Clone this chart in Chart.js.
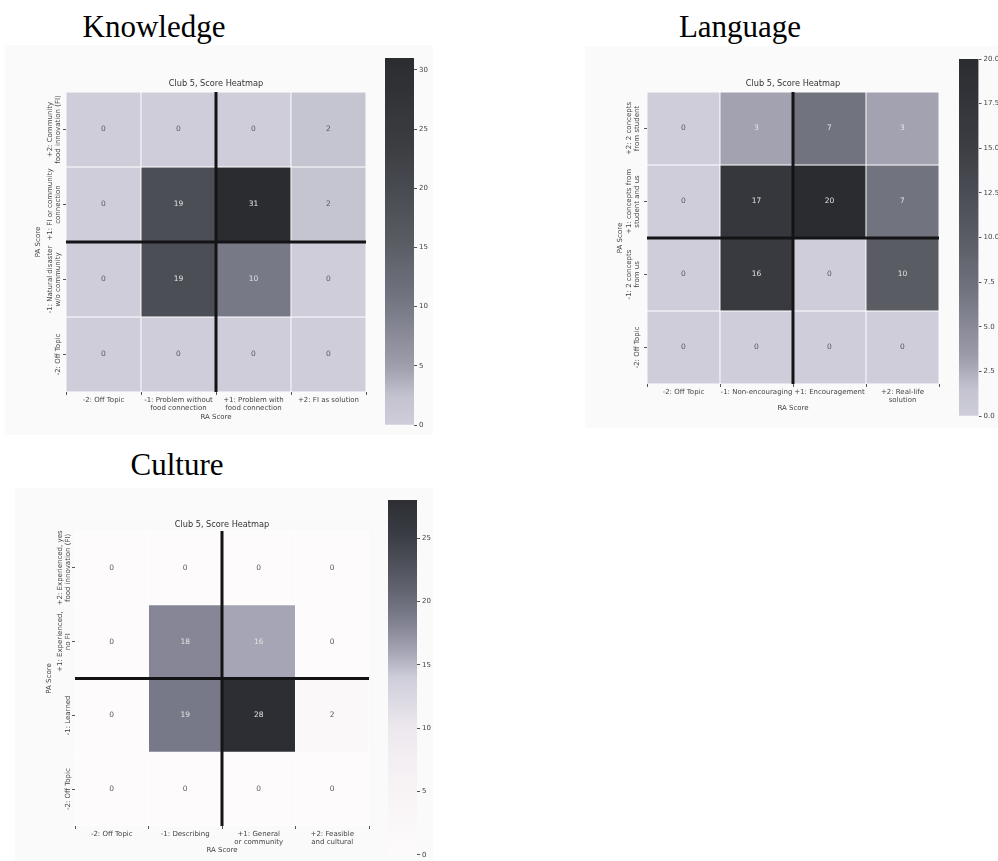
<!DOCTYPE html>
<html>
<head>
<meta charset="utf-8">
<script src="https://cdn.jsdelivr.net/npm/chart.js@4.4.1/dist/chart.umd.min.js"></script>
<style>
  body { margin: 0; background: #fff; width: 998px; height: 861px; position: relative; overflow: hidden; }
  .panel { position: absolute; background: #fafafa; }
  .heading { position: absolute; font-family: 'Liberation Serif', 'Times New Roman', serif; font-size: 31px; line-height: 31px; color: #000; white-space: nowrap; transform: translateX(-50%); }
  canvas { position: absolute; }
</style>
</head>
<body>
<div class="panel" style="left:5px; top:45px; width:428px; height:390px;"></div>
<div class="panel" style="left:585px; top:46px; width:413px; height:382px;"></div>
<div class="panel" style="left:15px; top:488px; width:418px; height:373px;"></div>

<div class="heading" style="left:154px; top:11px;">Knowledge</div>
<div class="heading" style="left:740px; top:11px;">Language</div>
<div class="heading" style="left:177px; top:449px;">Culture</div>

<canvas id="knowledge" style="left:20px; top:70px;" width="352" height="362"></canvas>
<canvas id="knowledgeBar" style="left:385px; top:50px;" width="45" height="385"></canvas>
<canvas id="language" style="left:600px; top:70px;" width="345" height="355"></canvas>
<canvas id="languageBar" style="left:959px; top:50px;" width="39" height="376"></canvas>
<canvas id="culture" style="left:25px; top:505px;" width="350" height="356"></canvas>
<canvas id="cultureBar" style="left:388px; top:492px;" width="45" height="369"></canvas>

<script>
// ---- data ----
const knowledgeCols = ['-2: Off Topic', ['-1: Problem without', 'food connection'], ['+1: Problem with', 'food connection'], '+2: FI as solution'];
const knowledgeRows = [['+2: Community', 'food innovation (FI)'], ['+1: FI or community', 'connection'], ['-1: Natural disaster', 'w/o community'], ['-2: Off Topic']];
const knowledgeValues = [
    [0, 0, 0, 2],
    [0, 19, 31, 2],
    [0, 19, 10, 0],
    [0, 0, 0, 0]
];

const languageCols = ['-2: Off Topic', '-1: Non-encouraging', '+1: Encouragement', ['+2: Real-life', 'solution']];
const languageRows = [['+2: 2 concepts', 'from student'], ['+1: concepts from', 'student and us'], ['-1: 2 concepts', 'from us'], ['-2: Off Topic']];
const languageValues = [
    [0, 3, 7, 3],
    [0, 17, 20, 7],
    [0, 16, 0, 10],
    [0, 0, 0, 0]
];

const cultureCols = ['-2: Off Topic', '-1: Describing', ['+1: General', 'or community'], ['+2: Feasible', 'and cultural']];
const cultureRows = [['+2: Experienced, yes', 'food innovation (FI)'], ['+1: Experienced,', 'no FI'], ['-1: Learned'], ['-2: Off Topic']];
const cultureValues = [
    [0, 0, 0, 0],
    [0, 18, 16, 0],
    [0, 19, 28, 2],
    [0, 0, 0, 0]
];

const knowledgeTicks = { step: 5, digits: 0 };
const languageTicks = { step: 2.5, digits: 1 };
const cultureTicks = { step: 5, digits: 0 };

// ---- colour maps (position 0..1 -> rgb) ----
const lavenderMap = [
    [0, [207, 205, 218]],
    [0.08, [195, 194, 207]],
    [0.16, [158, 157, 173]],
    [0.35, [113, 115, 127]],
    [0.5, [90, 92, 100]],
    [0.75, [60, 62, 68]],
    [1, [42, 44, 48]]
];
const whiteMap = [
    [0, [253, 251, 251]],
    [0.18, [248, 244, 246]],
    [0.36, [236, 232, 237]],
    [0.5, [206, 205, 218]],
    [0.57, [166, 166, 182]],
    [0.66, [126, 127, 143]],
    [0.75, [96, 98, 110]],
    [0.9, [58, 61, 67]],
    [1, [44, 46, 51]]
];

function sampleMap(map, t) {
    t = Math.max(0, Math.min(1, t));
    for (let i = 1; i < map.length; i++) {
        if (t <= map[i][0]) {
            const [t0, c0] = map[i - 1];
            const [t1, c1] = map[i];
            const f = (t - t0) / (t1 - t0);
            return c0.map((v, k) => Math.round(v + (c1[k] - v) * f));
        }
    }
    return map[map.length - 1][1];
}

function rgb(c) {
    return `rgb(${c[0]}, ${c[1]}, ${c[2]})`;
}

function luminance(c) {
    const lin = c.map(v => {
        v /= 255;
        return v <= 0.03928 ? v / 12.92 : Math.pow((v + 0.055) / 1.055, 2.4);
    });
    return 0.2126 * lin[0] + 0.7152 * lin[1] + 0.0722 * lin[2];
}

Chart.defaults.font.family = "'DejaVu Sans', sans-serif";
Chart.defaults.font.size = 7;
Chart.defaults.font.lineHeight = 1.15;
Chart.defaults.color = '#444';
Chart.defaults.animation = false;

// annotations, the two thick divider lines and rotated row labels
const heatmapExtras = {
    id: 'heatmapExtras',
    afterDatasetsDraw(chart, args, opts) {
        const { ctx, chartArea, scales } = chart;
        ctx.save();
        const xm = scales.x.getPixelForValue(1.5);
        const ym = scales.y.getPixelForValue(2);
        ctx.strokeStyle = '#141416';
        ctx.lineWidth = 3;
        ctx.beginPath();
        ctx.moveTo(xm, chartArea.top);
        ctx.lineTo(xm, chartArea.bottom);
        ctx.moveTo(chartArea.left, ym);
        ctx.lineTo(chartArea.right, ym);
        ctx.stroke();

        ctx.font = "7.5px 'DejaVu Sans'";
        ctx.textAlign = 'center';
        ctx.textBaseline = 'middle';
        chart.data.datasets.forEach((ds, r) => {
            chart.getDatasetMeta(r).data.forEach((bar, c) => {
                const v = opts.values[r][c];
                const col = sampleMap(opts.cmap, v / opts.vmax);
                ctx.fillStyle = luminance(col) > 0.408 ? '#5a5a5a' : '#e4e4e4';
                ctx.fillText(String(v), bar.x, (bar.y + bar.base) / 2);
            });
        });

        const yl = scales.yl;
        ctx.font = "7px 'DejaVu Sans'";
        ctx.fillStyle = '#444';
        opts.rows.forEach((lines, i) => {
            const py = yl.getPixelForTick(i);
            const n = lines.length;
            lines.forEach((line, k) => {
                const px = chartArea.left - opts.labelGap - (n - 1 - k) * 8.1;
                ctx.save();
                ctx.translate(px, py);
                ctx.rotate(-Math.PI / 2);
                ctx.fillText(line, 0, 0);
                ctx.restore();
            });
        });
        ctx.restore();
    }
};

function makeHeatmap(id, cols, rows, values, cmap, g) {
    const vmax = Math.max(...values.flat());
    const datasets = values.map((row, r) => ({
        data: row.map(() => [r, r + 1]),
        backgroundColor: row.map(v => rgb(sampleMap(cmap, v / vmax))),
        borderColor: 'rgba(255, 255, 255, 0.75)',
        borderWidth: 0.8,
        borderSkipped: false,
        barPercentage: 1,
        categoryPercentage: 1,
        grouped: false
    }));

    return new Chart(document.getElementById(id), {
        type: 'bar',
        data: { labels: cols, datasets: datasets },
        options: {
            responsive: false,
            layout: { padding: { right: g.padRight } },
            plugins: {
                legend: { display: false },
                tooltip: { enabled: false },
                title: {
                    display: true,
                    text: 'Club 5, Score Heatmap',
                    fullSize: false,
                    color: '#333',
                    font: { size: 8.2, weight: 'normal', lineHeight: 1.2 },
                    padding: { top: g.titleTop, bottom: g.titleBottom }
                },
                heatmapExtras: { values: values, vmax: vmax, cmap: cmap, rows: rows, labelGap: g.labelGap }
            },
            scales: {
                x: {
                    ticks: { autoSkip: false, maxRotation: 0, padding: 1, color: '#444' },
                    grid: { drawOnChartArea: false, tickLength: 3, color: '#555' },
                    border: { display: false },
                    title: { display: true, text: 'RA Score', color: '#444', padding: { top: 0, bottom: g.xTitlePad } },
                    afterFit: s => { s.height = g.xHeight; }
                },
                y: {
                    display: false,
                    reverse: true,
                    min: 0,
                    max: values.length
                },
                yl: {
                    type: 'category',
                    position: 'left',
                    labels: rows,
                    offset: true,
                    ticks: { display: false },
                    grid: { drawOnChartArea: false, tickLength: 3, color: '#555', offset: false },
                    border: { display: false },
                    title: { display: true, text: 'PA Score', color: '#444', padding: { top: g.yTitlePad, bottom: 0 } },
                    afterFit: s => { s.width = g.yWidth; }
                }
            }
        },
        plugins: [heatmapExtras]
    });
}

function makeColorbar(id, values, cmap, tickOpts, g) {
    const vmax = Math.max(...values.flat());
    return new Chart(document.getElementById(id), {
        type: 'bar',
        data: {
            labels: [''],
            datasets: [{
                data: [[0, vmax]],
                backgroundColor: c => {
                    const area = c.chart.chartArea;
                    if (!area) return null;
                    const grad = c.chart.ctx.createLinearGradient(0, area.bottom, 0, area.top);
                    for (let i = 0; i <= 40; i++) grad.addColorStop(i / 40, rgb(sampleMap(cmap, i / 40)));
                    return grad;
                },
                barPercentage: 1,
                categoryPercentage: 1
            }]
        },
        options: {
            responsive: false,
            layout: { padding: { top: g.top, bottom: g.bottom } },
            plugins: { legend: { display: false }, tooltip: { enabled: false } },
            scales: {
                x: { display: false },
                y: {
                    position: 'right',
                    min: 0,
                    max: vmax,
                    ticks: {
                        stepSize: tickOpts.step,
                        includeBounds: false,
                        padding: 2,
                        color: '#444',
                        callback: v => v.toFixed(tickOpts.digits)
                    },
                    grid: { drawOnChartArea: false, tickLength: 3, color: '#555' },
                    border: { display: false }
                }
            }
        }
    });
}

makeHeatmap('knowledge', knowledgeCols, knowledgeRows, knowledgeValues, lavenderMap,
    { padRight: 6, titleTop: 9.1, titleBottom: 3.06, xHeight: 40, xTitlePad: 10.8, yWidth: 46, yTitlePad: 13.8, labelGap: 8 });
makeColorbar('knowledgeBar', knowledgeValues, lavenderMap, knowledgeTicks, { top: 8, bottom: 10 });

makeHeatmap('language', languageCols, languageRows, languageValues, lavenderMap,
    { padRight: 6, titleTop: 9.1, titleBottom: 3.06, xHeight: 41, xTitlePad: 12.8, yWidth: 47, yTitlePad: 15.8, labelGap: 10 });
makeColorbar('languageBar', languageValues, lavenderMap, languageTicks, { top: 9, bottom: 10 });

makeHeatmap('culture', cultureCols, cultureRows, cultureValues, whiteMap,
    { padRight: 6, titleTop: 15.1, titleBottom: 1.06, xHeight: 35, xTitlePad: 6.8, yWidth: 50, yTitlePad: 19.8, labelGap: 7 });
makeColorbar('cultureBar', cultureValues, whiteMap, cultureTicks, { top: 8, bottom: 3 });
</script>
</body>
</html>
